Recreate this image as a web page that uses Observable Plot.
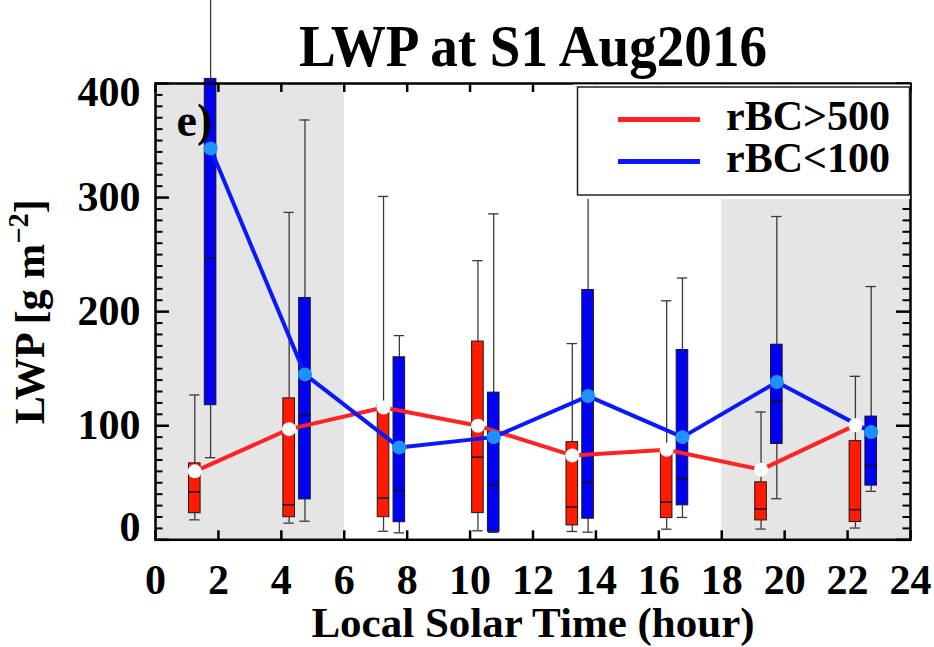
<!DOCTYPE html>
<html>
<head>
<meta charset="utf-8">
<script src="https://cdn.jsdelivr.net/npm/d3@7"></script>
<script src="https://cdn.jsdelivr.net/npm/@observablehq/plot@0.6"></script>
<style>
  body { margin: 0; background: #fff; }
  #chart { position: relative; width: 934px; height: 647px; overflow: hidden; }
  #chart svg { display: block; }
  #legend { position: absolute; left: 0; top: 0; pointer-events: none; }
</style>
</head>
<body>
<div id="chart"></div>
<script>
// Local solar time bin centres (hours)
const hours = [1.5, 4.5, 7.5, 10.5, 13.5, 16.5, 19.5, 22.5];

// rBC>500 box statistics (g m^-2)
const highMin    = [17.5, 14.6, 7.5, 7.9, 7.3, 9.3, 9.4, 10.3];
const highQ1     = [23.3, 19.8, 19.8, 23.4, 12.6, 19.0, 17.0, 15.6];
const highMedian = [42, 30.7, 36.5, 72.4, 28.7, 33, 27, 26.4];
const highQ3     = [67, 124, 118, 173.8, 85.6, 78, 50.4, 86.5];
const highMax    = [127, 287, 301, 244.7, 172, 209.5, 112, 143.3];
const highMean   = [60, 97, 116, 100, 74, 79, 61.5, 100.5];

// rBC<100 box statistics (g m^-2)
const lowMin    = [72, 16.3, 6.1, 6.5, 6.7, 19.6, 36, 42.5];
const lowQ1     = [118, 35.4, 15.4, 7, 18.5, 30.2, 84, 47.5];
const lowMedian = [247, 109, 43.2, 48.4, 50.4, 53.3, 121.6, 65];
const lowQ3     = [404, 212, 160, 129, 219, 166.4, 171, 108];
const lowMax    = [475, 368, 179, 285.7, 330, 229.5, 283.4, 222];
const lowMean   = [343, 145, 81, 90, 126, 90, 138.3, 94.4];

const seriesNames = ["rBC>500", "rBC<100"];
const nightSpans = [[0, 6], [18, 24]];
const xTicks = [0, 2, 4, 6, 8, 10, 12, 14, 16, 18, 20, 22, 24];
const yTicks = [0, 100, 200, 300, 400];
const yMinorTicks = d3.range(0, 401, 10).filter(v => v % 100 !== 0);

const titleText = "LWP at S1 Aug2016";
const xLabelText = "Local Solar Time (hour)";
const yLabelText = "LWP [g m\u22122]";
const panelTag = "e)";

function toRows(min, q1, median, q3, max, mean) {
  return hours.map((h, i) => ({hour: h, min: min[i], q1: q1[i], median: median[i], q3: q3[i], max: max[i], mean: mean[i]}));
}
const high = toRows(highMin, highQ1, highMedian, highQ3, highMax, highMean);
const low = toRows(lowMin, lowQ1, lowMedian, lowQ3, lowMax, lowMean);

const W = 934, H = 647;
const mL = 155, mR = 24, mT = 83, mB = 107.7;
const innerW = W - mL - mR, innerH = H - mT - mB;

const RED = "#ff1a00", BLUE = "#0000f5", RED_LINE = "#ff2222", BLUE_LINE = "#0a18ff", BLUE_DOT = "#1e90ff";
const SHIFT = 7.9, HALF_BOX = 5.8, HALF_CAP = 5.2;
const font = {fontFamily: "'Liberation Serif', 'Times New Roman', serif", fontWeight: "bold"};

function boxMarks(data, dx, fill) {
  const whisker = {stroke: "#3a3a3a", strokeWidth: 1.3, dx};
  return [
    Plot.ruleX(data, {x: "hour", y1: "min", y2: "q1", ...whisker}),
    Plot.ruleX(data, {x: "hour", y1: "q3", y2: "max", ...whisker}),
    Plot.ruleY(data, {y: "min", x1: "hour", x2: "hour", insetLeft: -HALF_CAP, insetRight: -HALF_CAP, ...whisker}),
    Plot.ruleY(data, {y: "max", x1: "hour", x2: "hour", insetLeft: -HALF_CAP, insetRight: -HALF_CAP, ...whisker}),
    Plot.rect(data, {x1: "hour", x2: "hour", y1: "q1", y2: "q3", dx, insetLeft: -HALF_BOX, insetRight: -HALF_BOX, fill, stroke: "#1a1a1a", strokeWidth: 1}),
    Plot.ruleY(data, {y: "median", x1: "hour", x2: "hour", dx, insetLeft: -HALF_BOX, insetRight: -HALF_BOX, stroke: "#111", strokeWidth: 1.5})
  ];
}

const chart = Plot.plot({
  width: W,
  height: H,
  marginLeft: mL, marginRight: mR, marginTop: mT, marginBottom: mB,
  x: {domain: [0, 24], axis: null},
  y: {domain: [0, 400], axis: null},
  style: {background: "white", overflow: "visible"},
  marks: [
    // night-time shading
    Plot.rect(nightSpans, {x1: d => d[0], x2: d => d[1], fill: "#e5e5e5"}),
    // inward ticks on all four sides
    Plot.ruleX(xTicks, {x: d => d, insetTop: innerH - 9, stroke: "black", strokeWidth: 2.5}),
    Plot.ruleX(xTicks, {x: d => d, insetBottom: innerH - 9, stroke: "black", strokeWidth: 2.5}),
    Plot.ruleY(yTicks, {y: d => d, insetRight: innerW - 14, stroke: "black", strokeWidth: 2.5}),
    Plot.ruleY(yTicks, {y: d => d, insetLeft: innerW - 14, stroke: "black", strokeWidth: 2.5}),
    Plot.ruleY(yMinorTicks, {y: d => d, insetRight: innerW - 7.5, stroke: "black", strokeWidth: 2}),
    Plot.ruleY(yMinorTicks, {y: d => d, insetLeft: innerW - 7.5, stroke: "black", strokeWidth: 2}),
    // box plots
    ...boxMarks(high, -SHIFT, RED),
    ...boxMarks(low, SHIFT, BLUE),
    // mean lines and points
    Plot.line(high, {x: "hour", y: "mean", dx: -SHIFT, stroke: RED_LINE, strokeWidth: 4}),
    Plot.line(low, {x: "hour", y: "mean", dx: SHIFT, stroke: BLUE_LINE, strokeWidth: 4}),
    Plot.dot(high, {x: "hour", y: "mean", dx: -SHIFT, r: 7, fill: "white"}),
    Plot.dot(low, {x: "hour", y: "mean", dx: SHIFT, r: 7, fill: BLUE_DOT}),
    Plot.frame({stroke: "black", strokeWidth: 2.5}),
    // tick labels
    Plot.text(xTicks, {x: d => d, text: d => String(d), frameAnchor: "bottom", dy: 54, lineAnchor: "bottom", fontSize: 42, fill: "black", ...font}),
    Plot.text(yTicks.slice(1, -1), {y: d => d, text: d => String(d), frameAnchor: "left", dx: -15, textAnchor: "end", lineAnchor: "middle", fontSize: 42, fill: "black", ...font}),
    Plot.text(yTicks.slice(0, 1), {y: d => d, text: d => String(d), frameAnchor: "left", dx: -15, dy: -12, textAnchor: "end", lineAnchor: "middle", fontSize: 42, fill: "black", ...font}),
    Plot.text(yTicks.slice(-1), {y: d => d, text: d => String(d), frameAnchor: "left", dx: -15, dy: 9, textAnchor: "end", lineAnchor: "middle", fontSize: 42, fill: "black", ...font}),
    // axis titles, chart title and panel tag
    Plot.text([xLabelText], {frameAnchor: "bottom", dy: 97, lineAnchor: "bottom", fontSize: 43, fill: "black", ...font}),
    Plot.text([yLabelText], {frameAnchor: "left", dx: -112, rotate: -90, lineAnchor: "bottom", fontSize: 42, fill: "black", ...font}),
    Plot.text([titleText], {frameAnchor: "top", dy: -18, lineAnchor: "bottom", fontSize: 60, fill: "black", ...font}),
    Plot.text([panelTag], {frameAnchor: "top-left", dx: 21, dy: 52, textAnchor: "start", lineAnchor: "bottom", fontSize: 46, fill: "black", ...font})
  ]
});

const root = document.getElementById("chart");
root.appendChild(chart);

// condense the title and set the superscript in the y-axis title
const svg = d3.select(chart);
svg.selectAll("text").filter(function () { return this.textContent === titleText; })
  .attr("textLength", 468).attr("lengthAdjust", "spacingAndGlyphs");
svg.selectAll("text").filter(function () { return this.textContent === yLabelText; })
  .each(function () {
    const t = d3.select(this);
    t.text(null).attr("text-anchor", "middle");
    t.append("tspan").text("LWP [g m");
    t.append("tspan").attr("dy", "-0.55em").attr("font-size", "0.68em").text("\u22122");
    t.append("tspan").attr("dy", "0.37em").text("]");
  });

// legend box drawn over the top-right corner of the plot
const legend = d3.select(root).append("svg")
  .attr("id", "legend").attr("width", W).attr("height", H);
legend.append("rect").attr("x", 573).attr("y", 84.5).attr("width", 337).attr("height", 114.5).attr("fill", "white");
legend.append("rect").attr("x", 577.5).attr("y", 87).attr("width", 332).attr("height", 108)
  .attr("fill", "white").attr("stroke", "#222").attr("stroke-width", 1.5);
const legendColors = [RED_LINE, BLUE_LINE];
const legendY = [119.5, 161.5];
seriesNames.forEach((name, i) => {
  legend.append("line").attr("x1", 618).attr("x2", 700).attr("y1", legendY[i]).attr("y2", legendY[i])
    .attr("stroke", legendColors[i]).attr("stroke-width", 5);
  legend.append("text").attr("x", 726).attr("y", legendY[i] + 10.5)
    .attr("font-family", font.fontFamily).attr("font-weight", "bold").attr("font-size", 42)
    .attr("fill", "black").text(name);
});
</script>
</body>
</html>
